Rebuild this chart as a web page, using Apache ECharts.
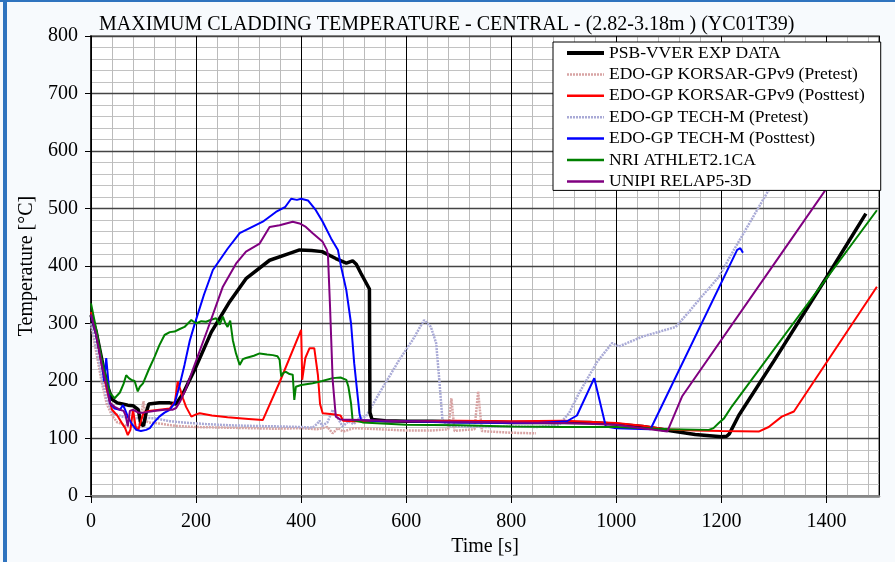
<!DOCTYPE html>
<html>
<head>
<meta charset="utf-8">
<title>Maximum cladding temperature</title>
<script src="https://cdn.jsdelivr.net/npm/echarts@6/dist/echarts.min.js"></script>
<style>
	html, body {
		margin: 0;
		padding: 0;
		background: #f7fafd;
	}
	#main {
		width: 895px;
		height: 562px;
	}
</style>
</head>
<body>
<div id="main"></div>
<script>
	// time [s] / temperature [°C]
	const expTime = [0, 10, 20, 30, 40, 50, 60, 70, 80, 90, 95, 100, 105, 110, 130, 150, 162, 175, 200, 229, 264, 295, 340, 378, 397, 420, 440, 466, 486, 498, 505, 514, 530, 531, 535, 560, 600, 650, 700, 750, 800, 850, 900, 950, 1000, 1050, 1100, 1150, 1200, 1210, 1215, 1233, 1300, 1400, 1475];
	const expTemp = [315, 285, 240, 195, 168, 162, 160, 158, 157, 150, 125, 122, 145, 160, 162, 162, 160, 178, 225, 285, 338, 378, 410, 422, 428, 427, 425, 413, 405, 409, 403, 387, 360, 145, 133, 131, 130, 130, 129, 129, 128, 128, 128, 128, 125, 121, 114, 107, 103, 104, 108, 140, 235, 380, 491];

	const korPreTime = [0, 10, 20, 30, 40, 50, 60, 70, 80, 90, 95, 100, 105, 110, 130, 160, 200, 250, 300, 350, 400, 430, 450, 460, 470, 480, 500, 550, 600, 650, 680, 686, 692, 700, 730, 737, 744, 760, 800, 847];
	const korPreTemp = [300, 250, 200, 160, 140, 128, 125, 120, 122, 118, 140, 165, 130, 128, 126, 122, 120, 119, 118, 117, 118, 116, 120, 109, 118, 112, 118, 116, 114, 114, 116, 170, 113, 114, 116, 182, 113, 112, 110, 109];

	const korPostTime = [0, 10, 20, 30, 40, 50, 60, 65, 70, 75, 80, 85, 90, 95, 100, 110, 130, 150, 160, 165, 170, 175, 181, 191, 200, 207, 230, 260, 300, 327, 360, 400, 401, 402, 408, 416, 425, 432, 436, 441, 460, 475, 480, 500, 600, 700, 800, 900, 1000, 1050, 1094, 1150, 1200, 1271, 1290, 1315, 1338, 1496];
	const korPostTemp = [320, 280, 230, 185, 150, 140, 125, 118, 106, 115, 150, 120, 115, 130, 145, 148, 150, 152, 165, 199, 185, 170, 155, 138, 142, 144, 140, 137, 134, 132, 200, 289, 250, 202, 240, 257, 257, 210, 160, 144, 142, 140, 131, 130, 130, 131, 130, 131, 127, 122, 116, 114, 113, 112, 120, 138, 147, 364];

	const techPreTime = [0, 10, 20, 30, 41, 60, 80, 100, 124, 150, 188, 220, 264, 300, 359, 400, 422, 430, 435, 440, 450, 460, 470, 479, 490, 500, 510, 523, 549, 587, 612, 634, 647, 657, 663, 669, 680, 700, 750, 800, 850, 891, 910, 929, 964, 992, 1005, 1049, 1113, 1138, 1157, 1195, 1220, 1290, 1330];
	const techPreTemp = [300, 260, 210, 170, 144, 138, 135, 136, 135, 130, 127, 125, 123, 122, 121, 120, 119, 125, 131, 122, 128, 150, 135, 121, 130, 125, 135, 138, 179, 237, 271, 306, 294, 266, 202, 132, 122, 121, 120, 121, 120, 124, 144, 179, 234, 266, 260, 277, 294, 320, 341, 381, 422, 532, 595];

	const techPostTime = [0, 10, 20, 25, 29, 33, 36, 45, 55, 61, 65, 70, 78, 86, 95, 105, 112, 120, 130, 140, 150, 159, 168, 178, 188, 197, 215, 232, 260, 283, 305, 327, 352, 370, 381, 392, 400, 413, 428, 441, 457, 470, 476, 486, 495, 501, 511, 514, 550, 600, 700, 800, 850, 906, 925, 958, 980, 1000, 1030, 1065, 1230, 1236, 1241];
	const techPostTemp = [315, 280, 235, 200, 240, 200, 161, 152, 150, 158, 150, 138, 125, 115, 113, 115, 118, 128, 138, 145, 150, 161, 190, 228, 270, 298, 350, 393, 430, 457, 467, 477, 494, 503, 517, 515, 517, 514, 497, 477, 448, 428, 399, 358, 300, 231, 144, 132, 130, 130, 128, 127, 127, 130, 140, 205, 121, 118, 117, 116, 428, 431, 423];

	const athletTime = [0, 10, 20, 30, 36, 45, 55, 62, 67, 72, 77, 83, 89, 93, 99, 110, 121, 130, 140, 150, 159, 168, 178, 191, 200, 210, 219, 230, 238, 245, 251, 256, 260, 265, 270, 276, 283, 289, 295, 310, 321, 335, 346, 355, 359, 362, 366, 371, 378, 384, 387, 390, 400, 422, 440, 460, 475, 486, 490, 495, 498, 517, 600, 700, 800, 900, 1000, 1100, 1176, 1185, 1195, 1205, 1220, 1496];
	const athletTemp = [335, 290, 240, 200, 179, 170, 180, 195, 210, 205, 202, 200, 182, 190, 196, 220, 242, 262, 280, 285, 286, 290, 294, 306, 300, 304, 303, 307, 309, 298, 312, 300, 294, 305, 271, 248, 228, 238, 240, 244, 248, 246, 245, 243, 237, 208, 214, 216, 212, 211, 167, 190, 193, 196, 200, 205, 206, 202, 190, 161, 132, 128, 124, 123, 121, 120, 120, 116, 115, 118, 127, 135, 156, 497];

	const relapTime = [0, 10, 20, 30, 36, 45, 55, 62, 66, 70, 74, 80, 90, 100, 120, 140, 155, 162, 170, 180, 188, 200, 222, 251, 276, 295, 321, 340, 359, 384, 397, 409, 422, 441, 449, 451, 455, 460, 466, 475, 511, 600, 700, 800, 900, 1000, 1050, 1097, 1125, 1319, 1480];
	const relapTemp = [315, 280, 230, 190, 162, 155, 150, 148, 140, 121, 148, 150, 145, 145, 148, 150, 150, 153, 165, 185, 205, 235, 290, 364, 404, 425, 439, 468, 471, 477, 474, 468, 457, 442, 428, 420, 330, 202, 138, 133, 132, 130, 129, 128, 127, 124, 118, 112, 173, 428, 640];

	const legendNames = ['PSB-VVER EXP DATA', 'EDO-GP KORSAR-GPv9 (Pretest)', 'EDO-GP KORSAR-GPv9 (Posttest)', 'EDO-GP TECH-M (Pretest)', 'EDO-GP TECH-M (Posttest)', 'NRI ATHLET2.1CA', 'UNIPI RELAP5-3D'];

	function zip(xs, ys) {
		return xs.map((x, i) => [x, ys[i]]);
	}

	const serif = 'Liberation Serif, Times New Roman, serif';

	function line(name, xs, ys, color, width, type) {
		return {
			name: name,
			type: 'line',
			symbol: 'none',
			z: 2,
			xAxisIndex: 0,
			yAxisIndex: 0,
			lineStyle: { color: color, width: width, type: type || 'solid' },
			itemStyle: { color: color },
			data: zip(xs, ys)
		};
	}

	const chart = echarts.init(document.getElementById('main'));

	const option = {
		backgroundColor: '#f7fafd',
		animation: false,
		title: {
			text: 'MAXIMUM CLADDING TEMPERATURE - CENTRAL - (2.82-3.18m ) (YC01T39)',
			left: 94,
			top: 10,
			textStyle: { fontFamily: serif, fontSize: 20, fontWeight: 'normal', color: '#000' }
		},
		legend: {
			data: legendNames.map((n, i) => ({ name: n, lineStyle: { width: i === 0 ? 4 : 2.5 } })),
			orient: 'vertical',
			left: 553,
			top: 42,
			z: 10,
			itemWidth: 37,
			itemHeight: 12,
			itemGap: 3.4,
			padding: [2, 16, 0, 12],
			backgroundColor: '#fff',
			borderColor: '#000',
			borderWidth: 1,
			itemStyle: { opacity: 0 },
			textStyle: { fontFamily: serif, fontSize: 17.5, color: '#000' }
		},
		grid: {
			left: 91,
			right: 16,
			top: 36,
			bottom: 66,
			show: true,
			backgroundColor: '#fff',
			borderColor: '#999',
			borderWidth: 2
		},
		xAxis: [{
			type: 'value',
			min: 0,
			max: 1500,
			interval: 200,
			z: 1,
			name: 'Time [s]',
			nameLocation: 'middle',
			nameGap: 40,
			nameTextStyle: { fontFamily: serif, fontSize: 20, color: '#000' },
			axisLine: { lineStyle: { color: '#888', width: 2.5 } },
			axisTick: { length: 7, lineStyle: { color: '#000' } },
			axisLabel: { fontFamily: serif, fontSize: 20, color: '#000', margin: 16, showMaxLabel: false, formatter: v => String(v) },
			splitLine: { lineStyle: { color: '#000', width: 1 } }
		}, {
			type: 'value',
			min: 0,
			max: 1500,
			interval: 40,
			z: 0,
			axisLine: { show: false },
			axisTick: { show: false },
			axisLabel: { show: false },
			splitLine: { lineStyle: { color: '#bbb', width: 1 } }
		}],
		yAxis: [{
			type: 'value',
			min: 0,
			max: 800,
			interval: 100,
			z: 1,
			name: 'Temperature [°C]',
			nameLocation: 'middle',
			nameGap: 52,
			nameTextStyle: { fontFamily: serif, fontSize: 20, color: '#000' },
			axisLine: { show: true, lineStyle: { color: '#000', width: 1.5 } },
			axisTick: { show: true, length: 6, lineStyle: { color: '#000' } },
			axisLabel: { fontFamily: serif, fontSize: 20, color: '#000', margin: 13 },
			splitLine: { lineStyle: { color: '#444', width: 1.3 } }
		}, {
			type: 'value',
			min: 0,
			max: 800,
			interval: 20,
			z: 0,
			position: 'left',
			axisLine: { show: false },
			axisTick: { show: false },
			axisLabel: { show: false },
			splitLine: { lineStyle: { color: '#c2c2c2', width: 1 } }
		}, {
			type: 'value',
			min: 0,
			max: 800,
			interval: 10,
			z: -1,
			position: 'left',
			axisLine: { show: false },
			axisTick: { show: false },
			axisLabel: { show: false },
			splitLine: { lineStyle: { color: '#e3e3e3', width: 1 } }
		}],
		series: [
			line(legendNames[1], korPreTime, korPreTemp, '#d8a4a4', 2.5, [2, 1]),
			line(legendNames[3], techPreTime, techPreTemp, '#a9aad6', 2.5, [2, 1]),
			line(legendNames[0], expTime, expTemp, '#000', 3.5),
			line(legendNames[2], korPostTime, korPostTemp, '#ff0000', 2),
			line(legendNames[4], techPostTime, techPostTemp, '#0000ff', 2),
			line(legendNames[5], athletTime, athletTemp, '#008000', 2),
			line(legendNames[6], relapTime, relapTemp, '#800080', 2)
		],
		graphic: [
			{ type: 'rect', left: 3, top: 0, shape: { width: 4, height: 562 }, style: { fill: '#2f74bf' } },
			{ type: 'rect', left: 0, top: 0, shape: { width: 895, height: 2 }, style: { fill: '#2f74bf' } }
		]
	};

	chart.setOption(option);

	window.onresize = function() {
		chart.resize();
	}
</script>
</body>
</html>
